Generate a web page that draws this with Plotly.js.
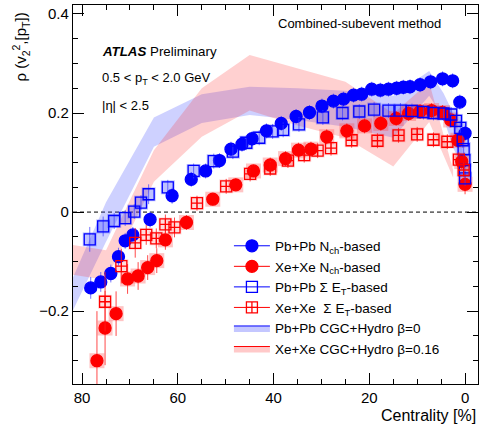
<!DOCTYPE html>
<html><head><meta charset="utf-8">
<script src="https://cdn.plot.ly/plotly-3.0.1.min.js"></script>
<style>body{margin:0;background:#fff}#c{width:480px;height:426px}</style>
</head><body><div id="c"></div>
<script>
// Pb+Pb Nch-based
const pbNchX = [78.2, 76.1, 74.0, 72.4, 71.0, 69.4, 65.8, 61.2, 57.2, 54.2, 51.3, 48.9, 46.6, 44.5, 41.5, 38.4, 35.3, 32.5, 29.9, 27.5, 25.4, 23.3, 21.6, 19.5, 17.7, 16.0, 14.3, 12.9, 11.5, 9.4, 7.2, 4.7, 2.6, 1.1, 0.0];
const pbNchY = [-0.153, -0.141, -0.124, -0.090, -0.058, -0.046, -0.015, 0.033, 0.066, 0.083, 0.104, 0.127, 0.137, 0.148, 0.164, 0.179, 0.193, 0.201, 0.214, 0.224, 0.228, 0.236, 0.238, 0.248, 0.246, 0.248, 0.250, 0.252, 0.253, 0.257, 0.263, 0.269, 0.265, 0.222, 0.159];
const pbNchErr = [0.022, 0.02, 0.018, 0.018, 0.016, 0.016, 0.016, 0.016, 0.015, 0.015, 0.015, 0.015, 0.015, 0.015, 0.015, 0.015, 0.015, 0.015, 0.015, 0.015, 0.015, 0.015, 0.015, 0.015, 0.015, 0.015, 0.015, 0.015, 0.015, 0.015, 0.015, 0.015, 0.015, 0.015, 0.015];
// Xe+Xe Nch-based
const xeNchX = [76.9, 75.2, 72.9, 70.5, 68.3, 66.3, 64.4, 62.6, 58.2, 52.7, 47.9, 44.2, 40.7, 37.5, 34.8, 32.2, 28.9, 24.7, 21.0, 17.6, 14.4, 11.8, 9.4, 7.0, 4.7, 3.0, 1.5, 0.7, 0.0];
const xeNchY = [-0.300, -0.234, -0.205, -0.135, -0.129, -0.112, -0.098, -0.056, -0.021, 0.026, 0.055, 0.083, 0.095, 0.108, 0.125, 0.127, 0.152, 0.164, 0.174, 0.179, 0.189, 0.199, 0.203, 0.205, 0.201, 0.186, 0.145, 0.102, 0.056];
const xeNchErr = [0.1, 0.075, 0.045, 0.03, 0.028, 0.025, 0.025, 0.02, 0.015, 0.012, 0.012, 0.012, 0.015, 0.015, 0.015, 0.015, 0.015, 0.015, 0.015, 0.015, 0.015, 0.015, 0.015, 0.015, 0.015, 0.015, 0.015, 0.015, 0.02];
// Pb+Pb Sum ET-based
const pbEtX = [78.4, 75.6, 73.3, 71.0, 69.1, 67.7, 66.1, 62.1, 56.7, 52.5, 48.5, 45.7, 43.0, 40.2, 38.0, 34.7, 29.7, 25.6, 22.1, 19.0, 16.0, 13.5, 11.1, 8.7, 6.6, 4.5, 2.9, 1.9, 1.0, 0.5, 0.3, 0.15, 0.05, 0.0];
const pbEtY = [-0.055, -0.029, -0.018, -0.012, 0.001, 0.019, 0.036, 0.050, 0.083, 0.103, 0.122, 0.140, 0.150, 0.163, 0.166, 0.177, 0.191, 0.200, 0.203, 0.207, 0.205, 0.205, 0.204, 0.202, 0.200, 0.199, 0.197, 0.184, 0.170, 0.145, 0.127, 0.105, 0.085, 0.068];
const pbEtErr = [0.025, 0.02, 0.016, 0.016, 0.015, 0.015, 0.02, 0.015, 0.015, 0.015, 0.015, 0.015, 0.015, 0.015, 0.015, 0.015, 0.015, 0.015, 0.015, 0.015, 0.015, 0.015, 0.015, 0.015, 0.015, 0.015, 0.015, 0.015, 0.015, 0.015, 0.015, 0.015, 0.015, 0.015];
// Xe+Xe Sum ET-based
const xeEtX = [75.2, 71.8, 68.9, 66.6, 64.5, 62.6, 60.7, 56.0, 49.9, 44.9, 40.7, 37.0, 33.6, 30.8, 28.0, 23.7, 18.3, 13.9, 10.0, 6.6, 3.7, 1.3, 0.3];
const xeEtY = [-0.181, -0.109, -0.062, -0.046, -0.053, -0.025, -0.031, 0.018, 0.052, 0.077, 0.088, 0.104, 0.115, 0.124, 0.129, 0.145, 0.144, 0.155, 0.157, 0.146, 0.142, 0.106, 0.085];
const xeEtErr = [0.06, 0.035, 0.03, 0.02, 0.02, 0.02, 0.02, 0.015, 0.015, 0.015, 0.015, 0.015, 0.015, 0.015, 0.015, 0.015, 0.015, 0.015, 0.015, 0.015, 0.015, 0.015, 0.015];
// CGC+Hydro bands
const pbBandCent = [85, 75, 65, 55, 45, 35, 25, 15, 7.5, 4.5, 2.5, 0.5];
const pbBandHi = [-0.20, 0.02, 0.191, 0.238, 0.253, 0.250, 0.245, 0.235, 0.285, 0.240, 0.200, 0.145];
const pbBandLo = [-0.26, -0.06, 0.132, 0.180, 0.196, 0.186, 0.172, 0.150, 0.235, 0.190, 0.130, 0.090];
const xeBandCent = [85, 75, 65, 55, 45, 35, 25, 15, 7.5, 2.5];
const xeBandHi = [-0.062, -0.077, 0.125, 0.250, 0.317, 0.290, 0.263, 0.199, 0.262, 0.085];
const xeBandLo = [-0.122, -0.137, 0.061, 0.152, 0.205, 0.175, 0.150, 0.092, 0.182, 0.070];

const BLUE = '#0000ff', RED = '#ff0000';
const poly = (c, hi, lo) => ({x: c.concat(c.slice().reverse()), y: hi.concat(lo.slice().reverse())});
const pbP = poly(pbBandCent, pbBandHi, pbBandLo);
const xeP = poly(xeBandCent, xeBandHi, xeBandLo);

const traces = [];
traces.push({x: pbP.x, y: pbP.y, type: 'scatter', mode: 'lines', fill: 'toself', fillcolor: 'rgba(60,70,255,0.25)', line: {width: 0}, showlegend: false, hoverinfo: 'skip'});
traces.push({x: xeP.x, y: xeP.y, type: 'scatter', mode: 'lines', fill: 'toself', fillcolor: 'rgba(255,40,40,0.22)', line: {width: 0}, showlegend: false, hoverinfo: 'skip'});
// systematic boxes
function boxes(x, y, col, size) {
  return {x, y, type: 'scatter', mode: 'markers', showlegend: false, hoverinfo: 'skip', marker: {symbol: 'square', size: size, color: col, line: {width: 0}}};
}
traces.push(boxes(pbEtX, pbEtY, 'rgba(70,80,255,0.35)', 14));
traces.push(boxes(xeEtX, xeEtY, 'rgba(255,60,60,0.18)', 14));
traces.push(boxes(xeNchX, xeNchY, 'rgba(255,60,60,0.3)', 15));
function pts(x, y, err, col, ecol, sym, size) {
  return {x, y, type: 'scatter', mode: 'markers', showlegend: false, hoverinfo: 'skip',
    error_y: {type: 'data', array: err, color: ecol, thickness: 1, width: 0},
    marker: {symbol: sym, size: size, color: col, line: {color: col, width: 1.3}}};
}
traces.push(pts(pbNchX, pbNchY, pbNchErr, BLUE, 'rgba(60,60,255,0.7)', 'circle', 12));
traces.push(pts(xeNchX, xeNchY, xeNchErr, RED, 'rgba(255,30,30,0.8)', 'circle', 12));
traces.push(pts(pbEtX, pbEtY, pbEtErr, BLUE, 'rgba(60,60,255,0.7)', 'square-open', 11));
traces.push(pts(xeEtX, xeEtY, xeEtErr, RED, 'rgba(255,30,30,0.8)', 'square-cross-open', 11));
// legend proxies
function lp(name, col, sym, size) {
  return {x: [null], y: [null], type: 'scatter', mode: 'lines+markers', name, line: {color: col, width: 1},
    marker: {symbol: sym, size: size, color: col, line: {color: col, width: 1.3}}};
}
traces.push(lp('Pb+Pb N<sub>ch</sub>-based', BLUE, 'circle', 12));
traces.push(lp('Xe+Xe N<sub>ch</sub>-based', RED, 'circle', 12));
traces.push(lp('Pb+Pb Σ E<sub>T</sub>-based', BLUE, 'square-open', 11));
traces.push(lp('Xe+Xe  Σ E<sub>T</sub>-based', RED, 'square-cross-open', 11));
traces.push({x: [null], y: [null], type: 'scatter', mode: 'lines', fill: 'toself', name: 'Pb+Pb CGC+Hydro β=0', fillcolor: 'rgba(60,70,255,0.3)', line: {color: BLUE, width: 1}});
traces.push({x: [null], y: [null], type: 'scatter', mode: 'lines', fill: 'toself', name: 'Xe+Xe CGC+Hydro β=0.16', fillcolor: 'rgba(255,40,40,0.25)', line: {color: RED, width: 1}});

const F = 'Liberation Sans, Arial, sans-serif';
const layout = {
  width: 480, height: 426,
  margin: {l: 73, r: 2, t: 5, b: 42},
  paper_bgcolor: '#fff', plot_bgcolor: '#fff',
  font: {family: F, color: '#000', size: 15},
  showlegend: true,
  legend: {x: 0.385, y: 0.405, xanchor: 'left', yanchor: 'top', bgcolor: 'rgba(0,0,0,0)', font: {size: 13.5, family: F}, tracegroupgap: 0, itemwidth: 36},
  xaxis: {range: [81.9, -2.7], showgrid: false, zeroline: false, showline: true, linecolor: '#000', linewidth: 1.2, mirror: 'allticks',
    ticks: 'inside', ticklen: 11, tickwidth: 1, tickcolor: '#000', dtick: 20, tick0: 0, tickfont: {size: 15, family: F},
    minor: {ticks: 'inside', dtick: 5, ticklen: 5, tickcolor: '#000', showgrid: false}},
  yaxis: {range: [-0.347, 0.418], showgrid: false, zeroline: false, showline: true, linecolor: '#000', linewidth: 1.2, mirror: 'allticks',
    ticks: 'inside', ticklen: 11, tickwidth: 1, tickcolor: '#000', dtick: 0.2, tick0: 0, tickfont: {size: 15, family: F},
    minor: {ticks: 'inside', dtick: 0.05, ticklen: 5, tickcolor: '#000', showgrid: false}},
  shapes: [{type: 'line', xref: 'paper', x0: 0, x1: 1, yref: 'y', y0: 0, y1: 0, line: {color: '#000', width: 1, dash: '4px,3px'}, layer: 'below'}],
  annotations: [
    {xref: 'paper', yref: 'paper', x: -0.13, y: 0.985, xanchor: 'center', yanchor: 'top', textangle: -90, showarrow: false,
      text: 'ρ (v<sub>2</sub><sup>2</sup>,[p<sub>T</sub>])', font: {size: 15, family: F}},
    {xref: 'paper', yref: 'paper', x: 1, y: -0.082, xanchor: 'right', yanchor: 'middle', showarrow: false,
      text: 'Centrality [%]', font: {size: 16, family: F}},
    {xref: 'paper', yref: 'paper', x: 0.5, y: 0.952, xanchor: 'left', yanchor: 'middle', showarrow: false,
      text: 'Combined-subevent method', font: {size: 13, family: F}},
    {xref: 'paper', yref: 'paper', x: 0.066, y: 0.876, xanchor: 'left', yanchor: 'middle', showarrow: false,
      text: '<b><i>ATLAS</i></b> Preliminary', font: {size: 13.3, family: F}},
    {xref: 'paper', yref: 'paper', x: 0.066, y: 0.805, xanchor: 'left', yanchor: 'middle', showarrow: false,
      text: '0.5 &lt; p<sub>T</sub> &lt; 2.0 GeV', font: {size: 13, family: F}},
    {xref: 'paper', yref: 'paper', x: 0.066, y: 0.736, xanchor: 'left', yanchor: 'middle', showarrow: false,
      text: '|η| &lt; 2.5', font: {size: 13, family: F}}
  ]
};
Plotly.newPlot('c', traces, layout, {staticPlot: true});
</script></body></html>
